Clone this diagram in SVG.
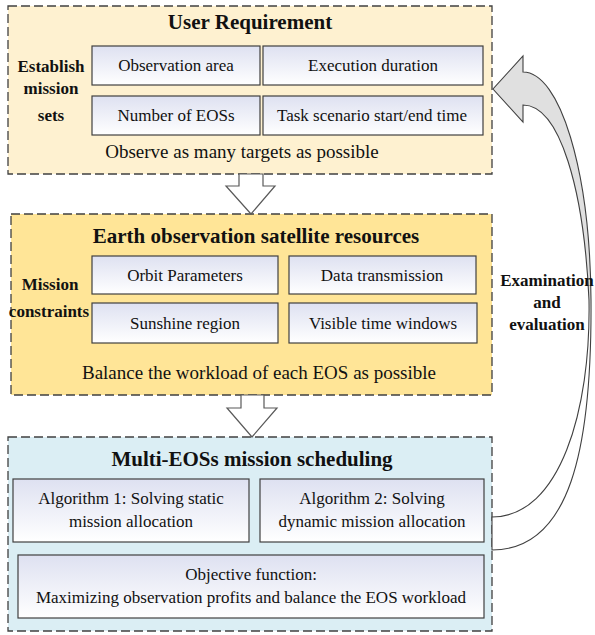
<svg xmlns="http://www.w3.org/2000/svg" width="595" height="635" viewBox="0 0 595 635">
<defs>
<linearGradient id="ib" x1="0" y1="0" x2="0" y2="1">
<stop offset="0" stop-color="#DEE1F1"/>
<stop offset="1" stop-color="#FFFFFF"/>
</linearGradient>
<linearGradient id="cg" gradientUnits="userSpaceOnUse" x1="0" y1="56" x2="0" y2="550">
<stop offset="0" stop-color="#E0E0E0"/>
<stop offset="0.48" stop-color="#E0E0E0"/>
<stop offset="0.52" stop-color="#FFFFFF"/>
<stop offset="1" stop-color="#FFFFFF"/>
</linearGradient>
</defs>
<style>
.grp{stroke:#404040;stroke-width:1.3;stroke-dasharray:9 4}
.ib{fill:url(#ib);stroke:#404040;stroke-width:1.2}
.t{font-family:"Liberation Serif",serif;font-size:17px;fill:#111;text-anchor:middle}
.n{font-size:19px}
.h{font-family:"Liberation Serif",serif;font-size:21px;font-weight:bold;fill:#111;text-anchor:middle}
.b{font-family:"Liberation Serif",serif;font-size:17px;font-weight:bold;fill:#111;text-anchor:middle}
.ba{fill:#FFFFFF;stroke:#595959;stroke-width:1.2}
</style>
<rect width="595" height="635" fill="#FFFFFF"/>

<g id="user-requirement">
<rect class="grp" x="8" y="6" width="484" height="168" fill="#FEF1D0"/>
<text class="h" x="250" y="29">User Requirement</text>
<text class="b" x="51" y="72">Establish</text>
<text class="b" x="51" y="94">mission</text>
<text class="b" x="51" y="121">sets</text>
<rect class="ib" x="92" y="46" width="168" height="39"/>
<text class="t" x="176" y="71">Observation area</text>
<rect class="ib" x="263" y="46" width="220" height="39"/>
<text class="t" x="373" y="71">Execution duration</text>
<rect class="ib" x="92" y="96" width="168" height="39"/>
<text class="t" x="176" y="121">Number of EOSs</text>
<rect class="ib" x="263" y="96" width="220" height="39"/>
<text class="t" x="372" y="121">Task scenario start/end time</text>
<text class="t n" x="242" y="158">Observe as many targets as possible</text>
</g>

<g id="satellite-resources">
<rect class="grp" x="11" y="214" width="481" height="181" fill="#FFE597"/>
<text class="h" x="256" y="243">Earth observation satellite resources</text>
<text class="b" x="50" y="290">Mission</text>
<text class="b" x="49" y="317">constraints</text>
<rect class="ib" x="92" y="256" width="186" height="38"/>
<text class="t" x="185" y="281">Orbit Parameters</text>
<rect class="ib" x="289" y="256" width="187" height="38"/>
<text class="t" x="382" y="281">Data transmission</text>
<rect class="ib" x="92" y="303" width="186" height="40"/>
<text class="t" x="185" y="329">Sunshine region</text>
<rect class="ib" x="289" y="303" width="188" height="40"/>
<text class="t" x="383" y="329">Visible time windows</text>
<text class="t n" x="259" y="379">Balance the workload of each EOS as possible</text>
</g>

<g id="mission-scheduling">
<rect class="grp" x="8" y="437" width="484" height="194" fill="#DBEEF4"/>
<text class="h" x="252" y="466">Multi-EOSs mission scheduling</text>
<rect class="ib" x="13" y="479" width="236" height="63"/>
<text class="t" x="131" y="504">Algorithm 1: Solving static</text>
<text class="t" x="131" y="527">mission allocation</text>
<rect class="ib" x="260" y="479" width="224" height="63"/>
<text class="t" x="372" y="504">Algorithm 2: Solving</text>
<text class="t" x="372" y="527">dynamic mission allocation</text>
<rect class="ib" x="18" y="555" width="466" height="63"/>
<text class="t" x="251" y="580">Objective function:</text>
<text class="t" x="251" y="603">Maximizing observation profits and balance the EOS workload</text>
</g>

<g id="connectors">
<path class="ba" d="M239,174 L263,174 L263,186 L275,186 L251,214 L226,186 L239,186 Z"/>
<path class="ba" d="M241,395 L264,395 L264,408 L277,408 L252,437 L227,408 L241,408 Z"/>
<path d="M523,72 L523,56 L493,89 L523,122 L523,105 C560,105 584,190 589,300 C591,410 560,517 492,517 L492,550 C570,550 592,450 591,300 C590,170 560,72 523,72 Z" fill="url(#cg)" stroke="#404040" stroke-width="1.1"/>
</g>

<g id="feedback-label">
<text class="b" x="547" y="286">Examination</text>
<text class="b" x="547" y="308">and</text>
<text class="b" x="547" y="330">evaluation</text>
</g>
</svg>
